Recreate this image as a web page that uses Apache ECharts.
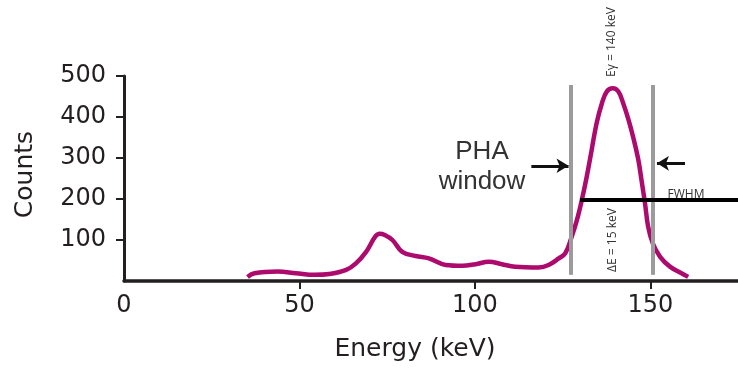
<!DOCTYPE html>
<html>
<head>
<meta charset="utf-8">
<script src="https://cdn.jsdelivr.net/npm/echarts@6/dist/echarts.min.js"></script>
<style>html,body{margin:0;padding:0;background:#fff;}#c{width:738px;height:369px;}</style>
</head>
<body>
<div id="c"></div>
<script>
// Spectrum (energy in keV, counts)
const energy = [35.2, 37.2, 43.8, 49, 54.3, 58.5, 63.3, 66.1, 69, 71.6, 72.9, 74.3, 76.5, 79.3, 83.1, 86.9, 91.7, 96.4, 100.2, 104, 107.7, 111.5, 118.2, 121, 123.9, 125.8, 127.6, 129.1, 130.5, 131.9, 133.3, 134.7, 136.2, 137.6, 139.3, 140.9, 142.3, 143.8, 145.2, 146.6, 147.5, 148.5, 149.4, 150.7, 152.8, 155.6, 158.9, 160.8];
const counts = [10, 19, 23, 19, 15, 17, 27, 43, 71, 108, 115, 112, 100, 71, 61, 55, 39, 37, 41, 47, 41, 35, 33, 39, 55, 68, 108, 149, 198, 255, 320, 385, 433, 462, 470, 462, 433, 393, 348, 295, 246, 189, 132, 92, 59, 35, 19, 10];
// Tick values
const xTickLabels = [0, 50, 100, 150];
const xTicks = [50, 100, 150];
const yTicks = [100, 200, 300, 400, 500];
// Annotations (data space)
const phaWindow = [127.3, 150.6];      // gray window bounds (keV)
const phaWindowCounts = [15, 478];      // vertical extent of window lines
const fwhmLine = [[130.0, 197], [175, 197]];
const arrowLeft = [[116.1, 281], [126.7, 281]];
const arrowRight = [[159.9, 287], [151.9, 287]];

const textColor = '#231f20';
const chart = echarts.init(document.getElementById('c'));
chart.setOption({
  animation: false,
  grid: { left: 124, top: 76, width: 616, height: 205, containLabel: false },
  xAxis: {
    type: 'value', min: 0, max: 175, interval: 50,
    name: 'Energy (keV)', nameLocation: 'middle', nameGap: 56,
    nameTextStyle: { fontFamily: 'DejaVu Sans', fontSize: 25, color: textColor, padding: [0, 32, 0, 0] },
    axisLine: { show: true, lineStyle: { color: textColor, width: 3.5 } },
    axisTick: { show: true, length: 8, lineStyle: { color: textColor, width: 2 }, customValues: xTicks },
    axisLabel: { fontFamily: 'DejaVu Sans', fontSize: 24, color: textColor, margin: 13, customValues: xTickLabels },
    splitLine: { show: false }
  },
  yAxis: {
    type: 'value', min: 0, max: 500, interval: 100,
    name: 'Counts', nameLocation: 'middle', nameGap: 86,
    nameTextStyle: { fontFamily: 'DejaVu Sans', fontSize: 25, color: textColor, padding: [0, 0, 0, 8] },
    axisLine: { show: true, lineStyle: { color: textColor, width: 3 } },
    axisTick: { show: true, length: 8, lineStyle: { color: textColor, width: 2 }, customValues: yTicks },
    axisLabel: { fontFamily: 'DejaVu Sans', fontSize: 24, color: textColor, margin: 18, customValues: yTicks },
    splitLine: { show: false }
  },
  series: [
    {
      type: 'line', name: 'Counts', smooth: 0.4, showSymbol: false, symbol: 'none',
      data: energy.map((e, i) => [e, counts[i]]),
      lineStyle: { color: '#ad0a6e', width: 4.5 }, z: 3
    },
    {
      type: 'line', data: [], silent: true,
      markLine: {
        silent: true, symbol: ['none', 'none'], label: { show: false },
        lineStyle: { color: '#9b9b9b', width: 4, type: 'solid' },
        emphasis: { disabled: true },
        data: phaWindow.map(x => [{ coord: [x, phaWindowCounts[0]] }, { coord: [x, phaWindowCounts[1]] }])
      }
    },
    {
      type: 'line', data: [], silent: true, z: 4,
      markLine: {
        silent: true, symbol: ['none', 'none'], label: { show: false },
        lineStyle: { color: '#000', width: 4, type: 'solid' },
        emphasis: { disabled: true },
        data: [[{ coord: fwhmLine[0] }, { coord: fwhmLine[1] }]]
      }
    },
    {
      type: 'line', data: [], silent: true,
      markLine: {
        silent: true, symbol: ['none', 'arrow'], symbolSize: [11, 12], label: { show: false },
        lineStyle: { color: '#111', width: 3, type: 'solid' },
        emphasis: { disabled: true },
        data: [
          [{ coord: arrowLeft[0] }, { coord: arrowLeft[1] }],
          [{ coord: arrowRight[0] }, { coord: arrowRight[1] }]
        ]
      }
    }
  ],
  graphic: [
    { type: 'text', x: 482, y: 152, style: { text: 'PHA', fontFamily: 'Liberation Sans', fontSize: 26, fill: '#333', align: 'center', verticalAlign: 'middle' } },
    { type: 'text', x: 482, y: 182, style: { text: 'window', fontFamily: 'Liberation Sans', fontSize: 26, fill: '#333', align: 'center', verticalAlign: 'middle' } },
    { type: 'text', x: 612, y: 42, rotation: Math.PI / 2, style: { text: 'Eγ = 140 keV', fontFamily: 'Open Sans', fontSize: 12, fill: '#333', align: 'center', verticalAlign: 'middle' } },
    { type: 'text', x: 613, y: 240, rotation: Math.PI / 2, style: { text: 'ΔE = 15 keV', fontFamily: 'Open Sans', fontSize: 12, fill: '#333', align: 'center', verticalAlign: 'middle' } },
    { type: 'text', x: 686, y: 195, style: { text: 'FWHM', fontFamily: 'Open Sans', fontSize: 12, fill: '#333', align: 'center', verticalAlign: 'middle' } }
  ]
});
</script>
</body>
</html>
